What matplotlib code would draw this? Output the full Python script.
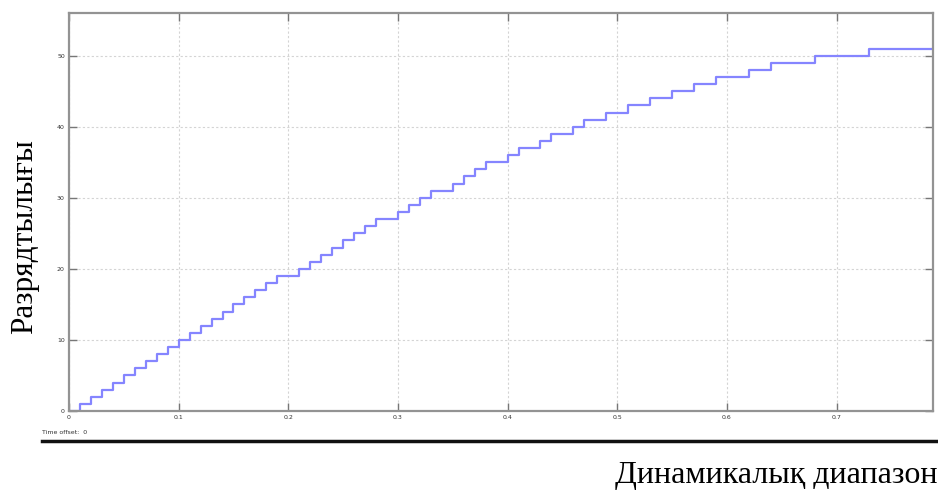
import numpy as np
import matplotlib
matplotlib.use("Agg")
import matplotlib.pyplot as plt
from matplotlib.lines import Line2D

# moments when the quantized level steps up by one (read from the scope)
step_times = [0.0, 0.01, 0.02, 0.03, 0.04, 0.05, 0.06, 0.07, 0.08, 0.09, 0.10,
              0.11, 0.12, 0.13, 0.14, 0.15, 0.16, 0.17, 0.18, 0.19, 0.21,
              0.22, 0.23, 0.24, 0.25, 0.26, 0.27, 0.28, 0.30, 0.31, 0.32,
              0.33, 0.35, 0.36, 0.37, 0.38, 0.40, 0.41, 0.43, 0.44, 0.46,
              0.47, 0.49, 0.51, 0.53, 0.55, 0.57, 0.59, 0.62, 0.64, 0.68,
              0.73]
levels = list(range(0, 52))
t_end = 0.788

xticks = [0, 0.1, 0.2, 0.3, 0.4, 0.5, 0.6, 0.7]
xtick_labels = ["0", "0.1", "0.2", "0.3", "0.4", "0.5", "0.6", "0.7"]
yticks = [0, 10, 20, 30, 40, 50]
ytick_labels = ["0", "10", "20", "30", "40", "50"]

ylabel = "Разрядтылығы"
xlabel = "Динамикалық диапазон"
offset_text = "Time offset:  0"

fig = plt.figure(figsize=(9.38, 4.91), dpi=100)
ax = fig.add_axes([69/938, 1-411/491, (933-69)/938, (411-13)/491])

x = step_times + [t_end]
y = levels + [levels[-1]]
ax.plot(x, y, drawstyle="steps-post", color="#8585ff", lw=1.6)

ax.set_xlim(0, t_end)
ax.set_ylim(0, 56)
ax.set_xticks(xticks)
ax.set_xticklabels(xtick_labels)
ax.set_yticks(yticks)
ax.set_yticklabels(ytick_labels)
ax.tick_params(direction="in", length=6, width=1.0, color="#777777",
               labelsize=4.5, labelcolor="#333333", top=True, right=True,
               pad=3)
ax.grid(True, color="#d4d4d4", linestyle=(0, (2, 2)), lw=0.8)
for s in ax.spines.values():
    s.set_color("#939393")
    s.set_linewidth(1.6)

fig.text(42/938, 1-432/491, offset_text, fontsize=4.5, color="#333333",
         va="center", ha="left")
fig.add_artist(Line2D([42/938, 1.0], [1-441/491, 1-441/491],
                      color="#111111", lw=2.5))

fig.text(25/938, 1-237/491, ylabel, rotation=90, fontsize=22.5,
         family="Liberation Serif", va="center", ha="center")
fig.text(0.999, 1-476/491, xlabel, fontsize=23,
         family="Liberation Serif", va="center", ha="right")

fig.savefig("out.png", dpi=100)
